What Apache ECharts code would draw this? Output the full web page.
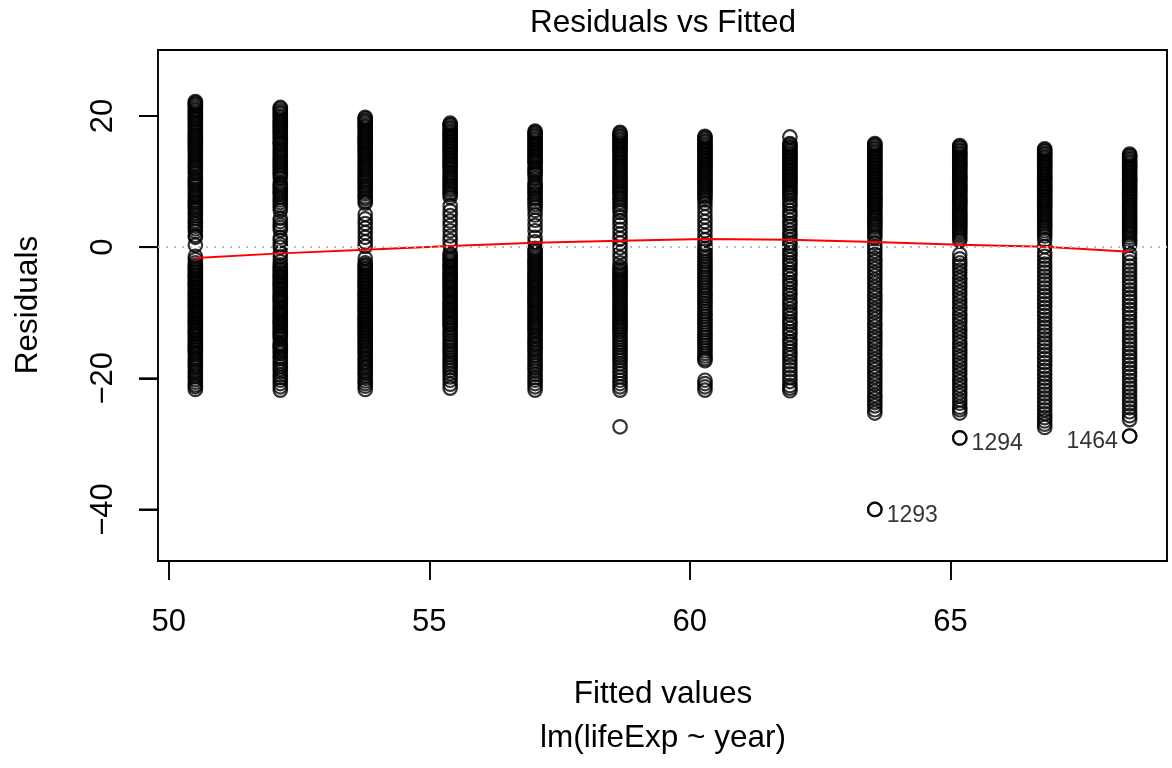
<!DOCTYPE html>
<html>
<head>
<meta charset="utf-8">
<script src="https://cdn.jsdelivr.net/npm/echarts@6/dist/echarts.min.js"></script>
<style>
  html, body { margin: 0; padding: 0; background: #ffffff; }
  #chart { width: 1172px; height: 768px; }
</style>
</head>
<body>
<div id="chart"></div>
<script>
// Fitted values of lm(lifeExp ~ year), one per survey year
const years  = [1952, 1957, 1962, 1967, 1972, 1977, 1982, 1987, 1992, 1997, 2002, 2007];
const fitted = [50.51, 52.14, 53.77, 55.40, 57.03, 58.66, 60.29, 61.92, 63.55, 65.18, 66.81, 68.44];

// Residuals at each fitted value
const res1952 = [22.2,22.0,21.8,21.6,21.3,21.0,20.8,20.5,20.2,19.9,19.6,19.4,19.0,18.8,18.5,18.2,17.9,17.6,17.3,17.0,16.7,16.4,16.1,15.8,15.5,15.2,14.9,14.6,14.3,14.0,13.7,13.4,13.1,12.8,12.5,12.2,11.9,11.5,11.2,10.7,10.4,10.1,9.8,9.5,9.2,8.8,8.5,8.2,7.9,7.6,7.2,6.9,6.6,6.2,5.9,5.6,5.2,4.8,4.4,4.0,3.6,3.2,2.8,2.4,1.8,1.5,0.3,
  -1.4,-1.9,-2.4,-2.8,-3.1,-3.3,-3.6,-3.8,-4.1,-4.3,-4.5,-4.8,-5.0,-5.3,-5.5,-5.7,-6.0,-6.2,-6.5,-6.7,-6.9,-7.2,-7.4,-7.7,-7.9,-8.1,-8.4,-8.6,-8.9,-9.1,-9.3,-9.6,-9.8,-10.1,-10.3,-10.5,-10.8,-11.0,-11.3,-11.5,-11.7,-12.0,-12.2,-12.5,-12.7,-12.9,-13.2,-13.4,-13.7,-14.1,-14.3,-14.6,-14.8,-15.1,-15.3,-15.6,-15.8,-16.1,-16.4,-16.8,-17.1,-17.4,-17.8,-18.1,-18.4,-18.8,-19.1,-19.5,-19.8,-20.2,-20.6,-21.0,-21.3,-21.7];
const res1957 = [21.3,21.1,20.8,20.5,20.3,20.0,19.8,19.5,19.2,19.0,18.7,18.4,18.2,17.9,17.6,17.4,17.1,16.8,16.6,16.3,16.0,15.8,15.5,15.1,14.8,14.5,14.2,13.9,13.6,13.3,13.0,12.7,12.4,12.1,11.8,11.5,11.2,10.9,10.5,9.8,9.5,9.2,8.9,8.6,8.3,8.0,7.6,7.2,6.8,6.4,6.0,5.6,4.4,3.9,3.4,3.0,2.6,1.5,1.0,0.4,0.0,-0.9,-1.5,-2.2,-2.7,
  -3.0,-3.3,-3.5,-3.8,-4.0,-4.3,-4.5,-4.7,-5.0,-5.2,-5.5,-5.7,-5.9,-6.2,-6.4,-6.7,-7.0,-7.2,-7.5,-7.7,-8.0,-8.2,-8.4,-8.7,-9.1,-9.3,-9.6,-9.8,-10.1,-10.3,-10.5,-10.8,-11.0,-11.3,-11.5,-11.7,-12.0,-12.2,-12.5,-12.7,-13.0,-13.2,-13.5,-13.7,-14.0,-14.6,-14.8,-15.1,-15.3,-15.6,-15.9,-16.2,-16.7,-17.0,-17.4,-17.8,-18.2,-18.6,-19.0,-19.5,-19.9,-20.3,-20.8,-21.3,-21.8];
const res1962 = [19.8,19.6,19.3,19.1,18.8,18.5,18.3,18.0,17.7,17.5,17.2,16.9,16.7,16.4,16.1,15.9,15.6,15.3,15.1,14.8,14.5,14.3,14.0,13.7,13.4,13.1,12.8,12.5,12.2,11.9,11.6,11.3,11.0,10.7,10.4,10.1,9.8,9.4,9.1,8.8,8.4,8.1,7.7,7.4,7.0,6.7,
  5.0,4.3,3.6,2.9,2.2,1.5,0.8,0.1,-1.7,
  -2.4,-2.7,-2.9,-3.2,-3.4,-3.7,-3.9,-4.2,-4.4,-4.7,-4.9,-5.2,-5.4,-5.7,-5.9,-6.2,-6.4,-6.7,-6.9,-7.2,-7.4,-7.7,-7.9,-8.2,-8.4,-8.7,-8.9,-9.2,-9.4,-9.7,-9.9,-10.2,-10.4,-10.7,-10.9,-11.2,-11.4,-11.7,-11.9,-12.2,-12.4,-12.7,-12.9,-13.2,-13.4,-13.7,-14.0,-14.3,-14.6,-14.9,-15.2,-15.5,-15.8,-16.1,-16.4,-16.8,-17.1,-17.5,-17.8,-18.2,-18.5,-18.9,-19.2,-19.6,-20.0,-20.4,-20.8,-21.2,-21.7];
const res1967 = [18.9,18.7,18.5,18.2,18.0,17.7,17.5,17.2,17.0,16.7,16.5,16.2,16.0,15.7,15.5,15.2,15.0,14.7,14.5,14.2,14.0,13.7,13.4,13.2,12.9,12.6,12.4,12.1,11.8,11.4,11.1,10.8,10.5,10.2,9.9,9.6,9.3,9.0,8.7,8.3,8.0,7.6,
  6.3,5.5,4.8,4.0,3.3,2.5,1.7,1.0,0.2,
  -0.9,-1.2,-1.5,-1.8,-2.0,-2.3,-2.6,-2.9,-3.1,-3.4,-3.7,-4.0,-4.2,-4.5,-4.8,-5.1,-5.3,-5.6,-5.9,-6.2,-6.4,-6.7,-7.0,-7.3,-7.5,-7.8,-8.1,-8.4,-8.6,-8.9,-9.2,-9.5,-9.7,-10.0,-10.3,-10.6,-10.8,-11.1,-11.4,-11.7,-11.9,-12.3,-12.7,-13.1,-13.4,-13.8,-14.2,-14.5,-14.9,-15.3,-15.7,-16.0,-16.4,-16.8,-17.2,-17.6,-18.0,-18.4,-18.8,-19.3,-19.8,-20.3,-20.9,-21.5];
const res1972 = [17.7,17.5,17.3,17.0,16.8,16.5,16.3,16.0,15.8,15.5,15.3,15.0,14.8,14.5,14.3,14.0,13.8,13.5,13.2,13.0,12.7,12.2,11.9,11.6,11.3,11.0,10.5,9.9,9.6,9.3,9.0,8.7,8.3,8.0,7.6,7.3,6.9,6.5,6.1,5.6,
  4.9,4.1,3.3,2.5,1.5,0.8,
  -0.2,-0.5,-0.8,-1.1,-1.4,-1.7,-2.0,-2.2,-2.5,-2.8,-3.1,-3.4,-3.7,-4.0,-4.2,-4.5,-4.8,-5.1,-5.4,-5.7,-6.0,-6.2,-6.5,-6.8,-7.1,-7.4,-7.7,-8.0,-8.2,-8.5,-8.8,-9.1,-9.4,-9.7,-10.0,-10.2,-10.5,-10.8,-11.1,-11.4,-11.7,-12.0,-12.3,-12.6,-12.9,-13.3,-13.6,-14.0,-14.3,-14.7,-15.0,-15.4,-15.7,-16.1,-16.5,-16.9,-17.3,-17.7,-18.1,-18.5,-18.9,-19.4,-19.9,-20.3,-20.8,-21.3,-21.8];
const res1977 = [17.5,17.3,17.0,16.8,16.5,16.3,16.0,15.8,15.5,15.3,15.0,14.8,14.5,14.2,14.0,13.7,13.4,13.1,12.8,12.5,12.2,11.9,11.6,11.3,11.0,10.7,10.4,10.1,9.8,9.5,9.2,8.9,8.6,8.3,8.0,7.6,7.3,6.9,6.5,6.1,5.7,5.3,
  4.6,4.0,3.4,2.7,2.0,1.3,0.6,-0.1,-0.8,-1.6,-2.4,
  -3.0,-3.3,-3.6,-3.9,-4.2,-4.5,-4.8,-5.1,-5.4,-5.7,-6.0,-6.3,-6.6,-6.9,-7.2,-7.5,-7.8,-8.1,-8.4,-8.7,-9.0,-9.3,-9.6,-9.9,-10.2,-10.5,-10.8,-11.1,-11.4,-11.7,-12.0,-12.3,-12.6,-12.9,-13.3,-13.7,-14.1,-14.5,-14.9,-15.3,-15.7,-16.1,-16.5,-16.9,-17.3,-17.8,-18.3,-18.8,-19.3,-19.8,-20.3,-20.8,-21.3,-21.8,-27.4];
const res1982 = [16.9,16.7,16.5,16.2,16.0,15.7,15.5,15.2,15.0,14.7,14.5,14.2,14.0,13.7,13.5,13.2,13.0,12.7,12.5,12.2,12.0,11.7,11.5,11.2,10.9,10.6,10.3,10.0,9.7,9.4,9.1,8.8,8.5,8.2,7.9,7.6,7.2,
  6.7,6.0,5.3,4.6,3.9,3.2,2.5,1.8,1.1,0.4,
  -0.2,-0.6,-1.0,-1.4,-1.8,-2.2,-2.6,-3.0,-3.4,-3.8,-4.2,-4.6,-5.0,-5.4,-5.8,-6.2,-6.6,-7.0,-7.4,-7.8,-8.2,-8.6,-9.0,-9.4,-9.8,-10.2,-10.6,-11.0,-11.4,-11.8,-12.2,-12.6,-13.0,-13.4,-13.8,-14.2,-14.6,-15.0,-15.4,-15.8,-16.2,-16.6,-17.0,-17.3,
  -20.3,-20.8,-21.3,-21.8];
const res1987 = [16.8,15.8,15.6,15.3,15.1,14.8,14.6,14.3,14.1,13.8,13.6,13.3,13.1,12.8,12.6,12.3,12.1,11.8,11.6,11.3,11.1,10.8,10.6,10.3,10.1,9.8,9.5,9.2,8.9,8.6,8.3,8.0,7.6,
  7.1,6.6,6.2,5.6,5.1,4.7,4.1,3.6,3.2,2.6,2.1,1.7,1.1,0.6,0.2,-0.4,-0.9,-1.3,-1.9,-2.4,-2.8,-3.4,-3.9,-4.3,-4.9,-5.4,-5.8,-6.4,-6.9,-7.3,-7.9,-8.4,-8.8,-9.4,-9.9,-10.3,-10.9,-11.4,-11.8,-12.4,-12.9,-13.3,-13.9,-14.4,-14.8,-15.4,-15.9,-16.4,-16.9,-17.5,-18.1,-18.7,-19.3,-19.9,-20.5,-21.1,-21.5,-21.9];
const res1992 = [15.8,15.6,15.4,15.1,14.9,14.6,14.4,14.1,13.9,13.6,13.4,13.1,12.9,12.6,12.4,12.1,11.9,11.6,11.4,11.1,10.9,10.6,10.4,10.1,9.9,9.6,9.4,9.1,8.9,8.6,8.4,8.1,7.9,7.6,7.4,7.1,6.9,6.6,6.4,6.1,5.8,5.5,5.2,4.9,4.6,4.3,4.0,3.6,3.3,3.0,2.6,2.2,1.8,1.4,
  0.6,0.0,-0.6,-1.1,-1.7,-2.2,-2.8,-3.3,-3.9,-4.4,-5.0,-5.5,-6.1,-6.6,-7.2,-7.7,-8.3,-8.8,-9.4,-9.9,-10.5,-11.0,-11.6,-12.1,-12.7,-13.2,-13.8,-14.3,-14.9,-15.4,-16.0,-16.5,-17.1,-17.6,-18.2,-18.7,-19.3,-19.8,-20.4,-20.9,-21.5,-22.0,-22.6,-23.1,-23.7,-24.2,-24.8,-25.3,-40.0];
const res1997 = [15.5,15.3,15.1,14.8,14.6,14.3,14.1,13.8,13.6,13.3,13.1,12.8,12.6,12.3,12.1,11.8,11.6,11.3,11.1,10.8,10.6,10.3,10.1,9.8,9.6,9.3,9.1,8.8,8.6,8.3,8.1,7.8,7.6,7.3,7.1,6.8,6.6,6.3,6.0,5.7,5.4,5.1,4.8,4.5,4.2,3.9,3.6,3.3,3.0,2.7,2.4,2.1,1.8,1.4,1.0,
  -1.1,-1.8,-2.4,-2.9,-3.5,-4.0,-4.6,-5.1,-5.7,-6.2,-6.8,-7.3,-7.9,-8.4,-9.0,-9.5,-10.1,-10.6,-11.2,-11.7,-12.3,-12.8,-13.4,-13.9,-14.5,-15.0,-15.6,-16.1,-16.7,-17.2,-17.8,-18.3,-18.9,-19.4,-20.0,-20.5,-21.1,-21.6,-22.2,-22.7,-23.3,-23.8,-24.4,-24.8,-25.3,-29.1];
const res2002 = [15.0,14.8,14.6,14.3,14.1,13.8,13.6,13.3,13.1,12.8,12.6,12.3,12.1,11.8,11.6,11.3,11.1,10.8,10.6,10.3,10.1,9.8,9.6,9.3,9.1,8.8,8.6,8.3,8.1,7.8,7.6,7.3,7.1,6.8,6.5,6.2,5.9,5.6,5.3,5.0,4.7,4.4,4.1,3.8,3.5,3.2,2.9,2.5,2.1,1.7,1.1,0.1,
  -0.8,-1.4,-2.0,-2.6,-3.2,-3.8,-4.4,-5.0,-5.6,-6.2,-6.8,-7.4,-8.0,-8.6,-9.2,-9.8,-10.4,-11.0,-11.6,-12.2,-12.8,-13.4,-14.0,-14.6,-15.2,-15.8,-16.4,-17.0,-17.6,-18.2,-18.8,-19.4,-20.0,-20.6,-21.2,-21.8,-22.4,-23.0,-23.6,-24.2,-24.8,-25.4,-26.0,-26.5,-27.0,-27.5];
const res2007 = [14.2,14.0,13.8,13.5,13.3,13.0,12.8,12.5,12.3,12.0,11.8,11.5,11.3,11.0,10.8,10.5,10.3,10.0,9.8,9.5,9.3,9.0,8.8,8.5,8.3,8.0,7.8,7.5,7.3,7.0,6.7,6.4,6.1,5.8,5.5,5.2,4.9,4.6,4.3,4.0,3.7,3.4,3.1,2.8,2.5,2.2,1.9,1.5,1.1,0.7,0.3,
  -1.0,-1.7,-2.3,-2.9,-3.5,-4.1,-4.7,-5.3,-5.9,-6.5,-7.1,-7.7,-8.3,-8.9,-9.5,-10.1,-10.7,-11.3,-11.9,-12.5,-13.1,-13.7,-14.3,-14.9,-15.5,-16.1,-16.7,-17.3,-17.9,-18.5,-19.1,-19.7,-20.3,-20.9,-21.5,-22.1,-22.7,-23.3,-23.9,-24.5,-25.1,-25.7,-26.3,-28.8];
const residuals = [res1952, res1957, res1962, res1967, res1972, res1977, res1982, res1987, res1992, res1997, res2002, res2007];

// Smoother through the residuals at each fitted value
const smoothY = [-1.66, -0.95, -0.40, 0.17, 0.67, 0.98, 1.23, 1.13, 0.78, 0.37, 0.06, -0.70];

// Observations flagged with their row numbers
const idLabels = ['1293', '1294', '1464'];
const idFitted = [63.55, 65.18, 68.44];
const idResid  = [-40.0, -29.1, -28.8];

// Tick labels
const xTicks = [50, 55, 60, 65];
const yTicks = [-40, -20, 0, 20];

const FONT = "'Liberation Sans', Arial, Helvetica, sans-serif";
const LW = 1.9;
const TICK_LEN = 19;
const GRID = { left: 158, right: 5, top: 50, bottom: 207 };

// Axis limits the way base graphics extends a data range
function extendRange(lo, hi, f) { const d = (hi - lo) * f; return [lo - d, hi + d]; }
const allRes = residuals.flat();
const xr = extendRange(Math.min(...fitted), Math.max(...fitted), 0.04);
const yr0 = extendRange(Math.min(...allRes), Math.max(...allRes), 0.08);
const yr = extendRange(yr0[0], yr0[1], 0.04);

const points = [];
residuals.forEach((col, i) => col.forEach(v => points.push([fitted[i], v])));

// Labels sit to the right unless the point lies in the upper half of the flagged range
const idMid = (Math.min(...idFitted) + Math.max(...idFitted)) / 2;
const idPoints = idLabels.map((lab, k) => ({
  value: [idFitted[k], idResid[k]],
  name: lab,
  label: {
    position: idFitted[k] > idMid ? 'left' : 'right',
    offset: [0, 6]
  }
}));

function textEl(str, x, y, rot) {
  return {
    type: 'text', x: x, y: y, rotation: rot || 0, silent: true,
    style: {
      text: str, fontSize: 31.5, fontFamily: FONT, fontWeight: 'normal', fill: '#000',
      x: 0, y: 0, textAlign: 'center', textVerticalAlign: 'middle'
    }
  };
}

const chart = echarts.init(document.getElementById('chart'), null, { renderer: 'canvas' });
chart.setOption({
  animation: false,
  backgroundColor: '#ffffff',
  textStyle: { fontFamily: FONT },
  grid: Object.assign({ show: true, borderColor: '#000000', borderWidth: LW, backgroundColor: 'transparent' }, GRID),
  xAxis: {
    type: 'value', min: xr[0], max: xr[1],
    axisLine: { show: false, onZero: false },
    splitLine: { show: false },
    axisTick: { show: true, customValues: xTicks, length: TICK_LEN, lineStyle: { color: '#000', width: LW } },
    axisLabel: { customValues: xTicks, fontSize: 31, color: '#000', margin: 46, fontFamily: FONT }
  },
  yAxis: {
    type: 'value', min: yr[0], max: yr[1],
    axisLine: { show: false, onZero: false },
    splitLine: { show: false },
    axisTick: { show: true, customValues: yTicks, length: TICK_LEN, lineStyle: { color: '#000', width: LW } },
    axisLabel: {
      customValues: yTicks, fontSize: 31, color: '#000', rotate: 90, margin: 39, fontFamily: FONT,
      formatter: v => String(v).replace('-', '\u2212')
    }
  },
  series: [
    {
      type: 'line',
      data: [],
      silent: true,
      markLine: {
        silent: true,
        symbol: 'none',
        label: { show: false },
        lineStyle: { color: '#BEBEBE', type: [2, 6], width: LW },
        data: [{ yAxis: 0 }]
      }
    },
    {
      // left-axis tick marks, hung outward from the left edge of the plot
      type: 'custom',
      data: yTicks.map(v => [xr[0], v]),
      clip: false,
      silent: true,
      z: 5,
      renderItem: (params, api) => {
        const p = api.coord([api.value(0), api.value(1)]);
        return {
          type: 'line',
          shape: { x1: p[0] - TICK_LEN, y1: p[1], x2: p[0], y2: p[1] },
          style: { stroke: '#000000', lineWidth: LW }
        };
      }
    },
    {
      type: 'scatter',
      data: points,
      symbol: 'circle',
      symbolSize: 13.5,
      progressive: 0,
      large: false,
      itemStyle: { color: 'rgba(0,0,0,0)', borderColor: '#000000', borderWidth: 2.2 },
      z: 2
    },
    {
      type: 'scatter',
      data: idPoints,
      symbol: 'circle',
      symbolSize: 13.5,
      itemStyle: { color: 'rgba(0,0,0,0)', borderColor: '#000000', borderWidth: 2.2 },
      label: { show: true, formatter: p => p.name, fontSize: 23, color: '#000', distance: 4, fontFamily: FONT },
      z: 2
    },
    {
      type: 'line',
      data: fitted.map((x, i) => [x, smoothY[i]]),
      symbol: 'none',
      lineStyle: { color: '#FF0000', width: LW },
      z: 3
    }
  ],
  graphic: [
    textEl('Residuals vs Fitted', 663, 23),
    textEl('Fitted values', 663, 694),
    textEl('lm(lifeExp ~ year)', 663, 738),
    textEl('Residuals', 28, 305, Math.PI / 2)
  ]
});
</script>
</body>
</html>
